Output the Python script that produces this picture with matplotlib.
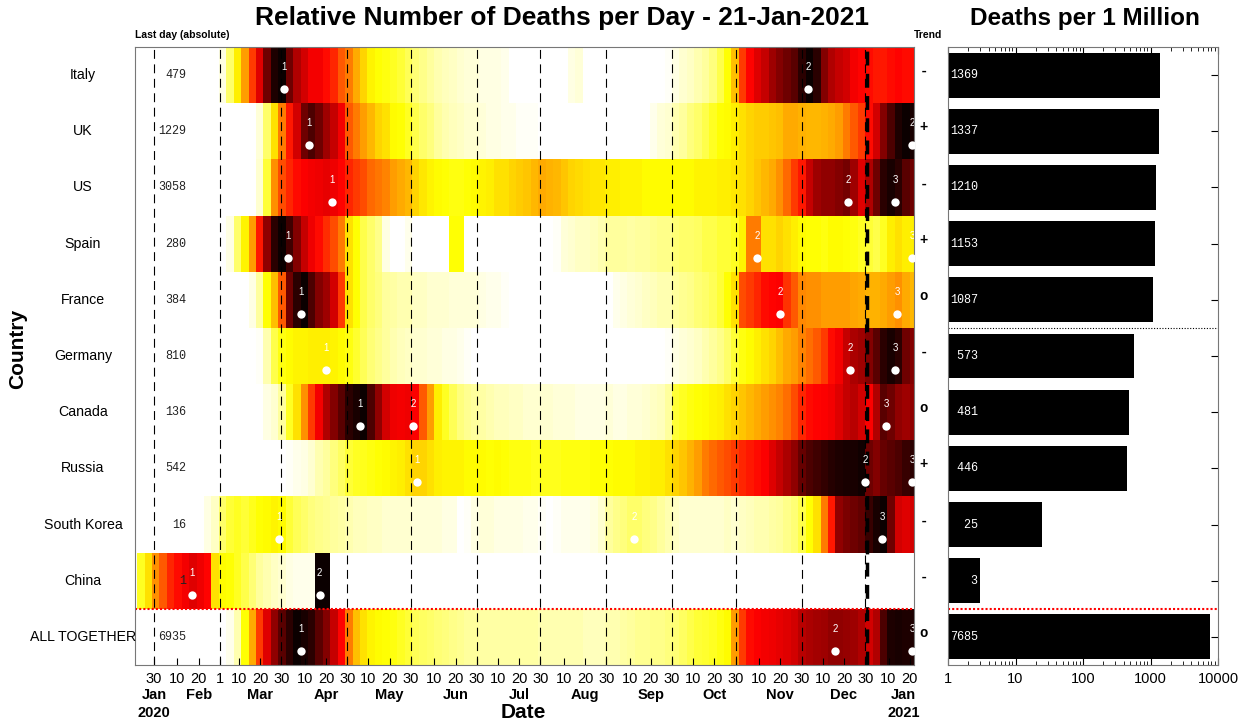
import numpy as np
import matplotlib
matplotlib.use('Agg')
import matplotlib.pyplot as plt
import matplotlib.dates as mdates
from matplotlib.transforms import blended_transform_factory as blend

plt.rcParams['font.family'] = ['Liberation Sans', 'DejaVu Sans']
MONO = 'Liberation Mono'

countries = ['Italy', 'UK', 'US', 'Spain', 'France', 'Germany', 'Canada',
             'Russia', 'South Korea', 'China', 'ALL TOGETHER']
last_day = [479, 1229, 3058, 280, 384, 810, 136, 542, 16, 1, 6935]
trend = ['-', '+', '-', '+', 'o', '-', 'o', '+', '-', '-', 'o']
deaths_per_million = [1369, 1337, 1210, 1153, 1087, 573, 481, 446, 25, 3, 7685]

# half-week deaths relative to each country's own maximum, bins start 22-Jan-2020
italy = [0, 0, 0, 0, 0, 0, 0, 0, 0, 0,
         0, 0.03, 0.15, 0.28, 0.40, 0.55, 0.68, 0.85, 0.97, 1.00,
         0.85, 0.75, 0.70, 0.65, 0.65, 0.62, 0.58, 0.50, 0.45, 0.38,
         0.32, 0.27, 0.25, 0.24, 0.22, 0.20, 0.17, 0.14, 0.12, 0.10,
         0.08, 0.07, 0.06, 0.05, 0.04, 0.04, 0.03, 0.03, 0.03, 0.02,
         0, 0, 0, 0, 0, 0, 0, 0, 0.03, 0.04,
         0, 0, 0, 0, 0, 0, 0, 0, 0, 0,
         0, 0.01, 0.03, 0.05, 0.06, 0.08, 0.10, 0.13, 0.18, 0.25,
         0.35, 0.55, 0.63, 0.68, 0.72, 0.78, 0.82, 0.85, 0.88, 0.95,
         1.00, 0.95, 0.82, 0.75, 0.72, 0.70, 0.65, 0.63, 0.62, 0.60,
         0.60, 0.62, 0.63, 0.62, 0.62]
uk = [0, 0, 0, 0, 0, 0, 0, 0, 0, 0,
      0, 0, 0, 0, 0, 0, 0.04, 0.15, 0.30, 0.45,
      0.60, 0.70, 0.85, 0.90, 0.85, 0.78, 0.72, 0.65, 0.50, 0.45,
      0.40, 0.36, 0.32, 0.30, 0.26, 0.25, 0.22, 0.18, 0.15, 0.13,
      0.10, 0.08, 0.07, 0.06, 0.05, 0.05, 0.04, 0.03, 0.03, 0.02,
      0.02, 0.01, 0.01, 0.01, 0, 0, 0, 0, 0, 0,
      0, 0, 0, 0, 0, 0, 0, 0, 0, 0.02,
      0.04, 0.05, 0.08, 0.10, 0.13, 0.15, 0.18, 0.22, 0.25, 0.26,
      0.28, 0.30, 0.32, 0.33, 0.33, 0.34, 0.35, 0.38, 0.38, 0.37,
      0.36, 0.36, 0.37, 0.38, 0.40, 0.45, 0.50, 0.55, 0.62, 0.70,
      0.82, 0.90, 0.97, 1.00, 0.98]
us = [0, 0, 0, 0, 0, 0, 0, 0, 0, 0,
      0, 0, 0, 0, 0, 0, 0.05, 0.20, 0.42, 0.52,
      0.58, 0.62, 0.64, 0.65, 0.66, 0.67, 0.66, 0.63, 0.58, 0.55,
      0.52, 0.48, 0.46, 0.44, 0.40, 0.38, 0.36, 0.32, 0.29, 0.27,
      0.26, 0.25, 0.24, 0.24, 0.25, 0.26, 0.27, 0.28, 0.30, 0.30,
      0.32, 0.33, 0.34, 0.36, 0.38, 0.37, 0.36, 0.34, 0.32, 0.31,
      0.30, 0.29, 0.29, 0.28, 0.28, 0.27, 0.27, 0.27, 0.26, 0.26,
      0.26, 0.26, 0.26, 0.26, 0.26, 0.27, 0.27, 0.27, 0.28, 0.28,
      0.29, 0.30, 0.32, 0.34, 0.36, 0.38, 0.42, 0.48, 0.55, 0.60,
      0.72, 0.78, 0.80, 0.80, 0.82, 0.84, 0.78, 0.68, 0.75, 0.85,
      0.95, 0.98, 0.95, 0.88, 0.85]
spain = [0, 0, 0, 0, 0, 0, 0, 0, 0, 0,
         0, 0, 0.03, 0.15, 0.27, 0.40, 0.60, 0.80, 0.95, 1.00,
         0.92, 0.82, 0.72, 0.66, 0.62, 0.57, 0.52, 0.45, 0.30, 0.25,
         0.18, 0.15, 0.12, 0.03, 0, 0, 0.02, 0, 0, 0,
         0, 0, 0.25, 0.25, 0, 0, 0, 0, 0, 0,
         0, 0, 0, 0, 0, 0, 0.01, 0.04, 0.05, 0.06,
         0.06, 0.07, 0.08, 0.10, 0.10, 0.10, 0.09, 0.10, 0.10, 0.11,
         0.12, 0.12, 0.14, 0.15, 0.15, 0.16, 0.18, 0.18, 0.20, 0.20,
         0.22, 0.27, 0.45, 0.45, 0.30, 0.30, 0.32, 0.30, 0.28, 0.26,
         0.25, 0.25, 0.24, 0.26, 0.26, 0.25, 0.24, 0.22, 0.20, 0.18,
         0.22, 0.28, 0.30, 0.28, 0.28]
france = [0, 0, 0, 0, 0, 0, 0, 0, 0, 0,
          0, 0, 0, 0, 0, 0.03, 0.10, 0.25, 0.35, 0.50,
          0.85, 0.95, 1.00, 0.90, 0.82, 0.78, 0.70, 0.55, 0.30, 0.25,
          0.18, 0.15, 0.13, 0.10, 0.09, 0.08, 0.08, 0.06, 0.06, 0.05,
          0.05, 0.05, 0.04, 0.04, 0.04, 0.04, 0.03, 0.02, 0.02, 0.01,
          0, 0, 0, 0, 0, 0, 0, 0, 0, 0,
          0, 0, 0, 0, 0.02, 0.03, 0.04, 0.05, 0.06, 0.07,
          0.08, 0.08, 0.10, 0.11, 0.12, 0.14, 0.15, 0.17, 0.20, 0.25,
          0.30, 0.52, 0.55, 0.58, 0.62, 0.63, 0.64, 0.56, 0.50, 0.43,
          0.42, 0.42, 0.40, 0.40, 0.40, 0.40, 0.39, 0.38, 0.37, 0.37,
          0.38, 0.40, 0.42, 0.38, 0.36]
germany = [0, 0, 0, 0, 0, 0, 0, 0, 0, 0,
           0, 0, 0, 0, 0, 0, 0.01, 0.08, 0.18, 0.24,
           0.26, 0.27, 0.27, 0.28, 0.28, 0.28, 0.27, 0.26, 0.24, 0.21,
           0.17, 0.14, 0.12, 0.10, 0.08, 0.07, 0.06, 0.05, 0.05, 0.04,
           0.04, 0.03, 0.03, 0.02, 0.01, 0, 0, 0, 0, 0,
           0, 0, 0, 0, 0, 0, 0, 0, 0, 0,
           0, 0, 0, 0, 0, 0, 0, 0, 0, 0,
           0, 0.01, 0.03, 0.04, 0.05, 0.06, 0.08, 0.10, 0.12, 0.15,
           0.20, 0.24, 0.26, 0.28, 0.30, 0.32, 0.35, 0.38, 0.40, 0.44,
           0.47, 0.50, 0.55, 0.62, 0.65, 0.72, 0.76, 0.78, 0.82, 0.88,
           0.95, 0.98, 0.95, 0.85, 0.82]
canada = [0, 0, 0, 0, 0, 0, 0, 0, 0, 0,
          0, 0, 0, 0, 0, 0, 0, 0.03, 0.05, 0.10,
          0.22, 0.30, 0.42, 0.55, 0.65, 0.75, 0.82, 0.88, 0.95, 0.98,
          1.00, 0.90, 0.80, 0.70, 0.66, 0.65, 0.66, 0.64, 0.50, 0.40,
          0.28, 0.22, 0.17, 0.13, 0.11, 0.10, 0.09, 0.08, 0.07, 0.07,
          0.06, 0.06, 0.05, 0.05, 0.05, 0.05, 0.04, 0.04, 0.04, 0.03,
          0.03, 0.03, 0.03, 0.04, 0.03, 0.03, 0.04, 0.04, 0.05, 0.06,
          0.07, 0.10, 0.20, 0.22, 0.24, 0.25, 0.26, 0.27, 0.28, 0.30,
          0.32, 0.34, 0.36, 0.38, 0.40, 0.42, 0.44, 0.47, 0.52, 0.58,
          0.62, 0.63, 0.64, 0.65, 0.68, 0.72, 0.74, 0.70, 0.64, 0.75,
          0.88, 0.85, 0.80, 0.78, 0.80]
russia = [0, 0, 0, 0, 0, 0, 0, 0, 0, 0,
          0, 0, 0, 0, 0, 0, 0, 0, 0, 0,
          0.01, 0.02, 0.03, 0.05, 0.08, 0.10, 0.13, 0.16, 0.20, 0.22,
          0.23, 0.24, 0.25, 0.26, 0.27, 0.28, 0.30, 0.32, 0.32, 0.30,
          0.28, 0.27, 0.27, 0.27, 0.26, 0.26, 0.26, 0.25, 0.26, 0.25,
          0.24, 0.24, 0.24, 0.23, 0.23, 0.23, 0.23, 0.24, 0.24, 0.24,
          0.24, 0.25, 0.25, 0.25, 0.26, 0.26, 0.26, 0.27, 0.27, 0.28,
          0.28, 0.30, 0.32, 0.34, 0.37, 0.40, 0.45, 0.48, 0.50, 0.52,
          0.55, 0.58, 0.60, 0.62, 0.64, 0.68, 0.72, 0.76, 0.80, 0.86,
          0.90, 0.92, 0.94, 0.96, 0.97, 0.98, 0.98, 0.99, 0.85, 0.82,
          0.86, 0.88, 0.90, 0.93, 0.95]
korea = [0, 0, 0, 0, 0, 0, 0, 0, 0, 0.03,
         0.06, 0.15, 0.20, 0.22, 0.20, 0.23, 0.25, 0.26, 0.27, 0.26,
         0.20, 0.17, 0.15, 0.13, 0.12, 0.11, 0.10, 0.09, 0.08, 0.07,
         0.07, 0.06, 0.06, 0.05, 0.05, 0.05, 0.05, 0.04, 0.04, 0.04,
         0.04, 0.03, 0.03, 0, 0.01, 0.03, 0.04, 0.04, 0.03, 0.03,
         0.03, 0.03, 0.02, 0.02, 0.01, 0, 0.01, 0.02, 0.02, 0.02,
         0.02, 0.03, 0.05, 0.10, 0.12, 0.13, 0.15, 0.15, 0.13, 0.12,
         0.10, 0.08, 0.06, 0.05, 0.05, 0.05, 0.05, 0.05, 0.05, 0.06,
         0.05, 0.06, 0.07, 0.08, 0.08, 0.09, 0.10, 0.12, 0.14, 0.18,
         0.25, 0.30, 0.45, 0.60, 0.80, 0.83, 0.85, 0.87, 0.93, 0.98,
         1.00, 0.85, 0.70, 0.68, 0.70]
china = [0.22, 0.30, 0.42, 0.50, 0.58, 0.62, 0.65, 0.68, 0.66, 0.63,
         0.30, 0.26, 0.25, 0.22, 0.18, 0.14, 0.10, 0.08, 0.06, 0.05,
         0.03, 0.02, 0.02, 0.02, 1.00, 1.00, 0, 0, 0, 0,
         0, 0, 0, 0, 0, 0, 0, 0, 0, 0,
         0, 0, 0, 0, 0, 0, 0, 0, 0, 0,
         0, 0, 0, 0, 0, 0, 0, 0, 0, 0,
         0, 0, 0, 0, 0, 0, 0, 0, 0, 0,
         0, 0, 0, 0, 0, 0, 0, 0, 0, 0,
         0, 0, 0, 0, 0, 0, 0, 0, 0, 0,
         0, 0, 0, 0, 0, 0, 0, 0, 0, 0,
         0, 0, 0, 0, 0]
all_together = [0, 0, 0, 0, 0, 0, 0, 0, 0, 0,
                0, 0, 0.02, 0.08, 0.25, 0.38, 0.55, 0.68, 0.80, 0.88,
                0.95, 1.00, 0.98, 0.95, 0.88, 0.82, 0.72, 0.63, 0.45, 0.35,
                0.30, 0.27, 0.26, 0.25, 0.24, 0.22, 0.20, 0.17, 0.16, 0.15,
                0.14, 0.13, 0.12, 0.11, 0.10, 0.10, 0.09, 0.09, 0.09, 0.09,
                0.09, 0.09, 0.09, 0.09, 0.08, 0.08, 0.08, 0.08, 0.08, 0.08,
                0.07, 0.07, 0.07, 0.08, 0.08, 0.09, 0.10, 0.11, 0.11, 0.12,
                0.12, 0.13, 0.14, 0.16, 0.18, 0.20, 0.21, 0.22, 0.24, 0.26,
                0.40, 0.55, 0.62, 0.64, 0.65, 0.66, 0.67, 0.68, 0.70, 0.74,
                0.76, 0.77, 0.78, 0.80, 0.80, 0.79, 0.78, 0.75, 0.70, 0.75,
                0.90, 0.97, 0.98, 0.97, 0.97]

# wave maxima (numbered 1, 2, 3 per country)
peak_dates = [
    ['2020-03-31', '2020-12-03'],
    ['2020-04-12', '2021-01-21'],
    ['2020-04-23', '2020-12-22', '2021-01-13'],
    ['2020-04-02', '2020-11-09', '2021-01-21'],
    ['2020-04-08', '2020-11-20', '2021-01-14'],
    ['2020-04-20', '2020-12-23', '2021-01-13'],
    ['2020-05-06', '2020-05-31', '2021-01-09'],
    ['2020-06-02', '2020-12-30', '2021-01-21'],
    ['2020-03-29', '2020-09-12', '2021-01-07'],
    ['2020-02-17', '2020-04-17'],
    ['2020-04-08', '2020-12-16', '2021-01-21'],
]

rows = [italy, uk, us, spain, france, germany, canada, russia, korea, china, all_together]
Z = np.array(rows)
n = len(countries)

bin_starts = np.arange(np.datetime64('2020-01-22T00'), np.datetime64('2021-01-22T00'),
                       np.timedelta64(84, 'h'))
xe = mdates.date2num(np.append(bin_starts, np.datetime64('2021-01-22T00')))
ye = np.arange(n + 1) - 0.5


def dnum(s):
    return mdates.date2num(np.datetime64(s))


W, H = 1245, 723


def box(x0, y0, x1, y1):
    return [x0 / W, 1 - y1 / H, (x1 - x0) / W, (y1 - y0) / H]


fig = plt.figure(figsize=(W / 100, H / 100), dpi=100)
ax = fig.add_axes(box(135, 47, 914, 665))
ax2 = fig.add_axes(box(948, 47, 1218, 665))

# ---- heatmap ----
ax.pcolormesh(xe, ye, Z, cmap='hot_r', vmin=0, vmax=1, shading='flat')
ax.set_xlim(dnum('2020-01-21'), dnum('2021-01-22'))
ax.set_ylim(n - 0.5, -0.5)

month_lines = ['2020-01-30', '2020-03-01'] + ['2020-%02d-30' % m for m in range(3, 13)]
for d in month_lines:
    ax.axvline(dnum(d), color='k', lw=0.8, ls=(0, (8, 5)), zorder=2)
ax.axvline(dnum('2020-12-31'), color='k', lw=2.5, ls=(0, (4, 2.4)), zorder=2)
ax.axhline(n - 1.5, color='r', lw=1.5, ls=(0, (1, 1)), zorder=2)

for i, dates in enumerate(peak_dates):
    for j, d in enumerate(dates):
        ax.plot(dnum(d), i + 0.25, 'o', color='w', ms=6, mec='none', zorder=3)
        ax.text(dnum(d), i - 0.14, str(j + 1), color='w', fontsize=7,
                ha='center', va='center', clip_on=True, zorder=3)

tr = blend(ax.transAxes, ax.transData)
for i, v in enumerate(last_day):
    ax.text((186 - 135) / 779, i, str(v), transform=tr, ha='right', va='center',
            family=MONO, fontsize=8.5, color='#222222')
for i, s in enumerate(trend):
    ax.text((924 - 135) / 779, i - 0.07, s, transform=tr, ha='center', va='center',
            family=MONO, fontsize=10, weight='bold', clip_on=False)
for i, c in enumerate(countries):
    ax.text(-(135 - 83) / 779, i, c, transform=tr, ha='center', va='center',
            fontsize=10.2)

ax.text(0, 1.012, 'Last day (absolute)', transform=ax.transAxes, fontsize=7.5,
        weight='bold', ha='left', va='bottom')
ax.text(1.0, 1.012, 'Trend', transform=ax.transAxes, fontsize=7.5,
        weight='bold', ha='left', va='bottom')

# date axis: ticks on the 10th, 20th, 30th of each month
tick_dates = ['2020-01-30', '2020-02-10', '2020-02-20', '2020-03-01']
for m in range(3, 13):
    tick_dates += ['2020-%02d-%02d' % (m, d) for d in (10, 20, 30)]
tick_dates += ['2021-01-10', '2021-01-20']
ax.set_xticks([dnum(d) for d in tick_dates])
ax.set_xticklabels([str(int(d[-2:])) for d in tick_dates])
ax.set_yticks([])
ax.tick_params(axis='x', direction='in', length=5, width=0.8, labelsize=10.5,
               pad=5, top=False)

month_names = ['Jan', 'Feb', 'Mar', 'Apr', 'May', 'Jun', 'Jul', 'Aug',
               'Sep', 'Oct', 'Nov', 'Dec', 'Jan']
month_pos = ['2020-01-30'] + ['2020-%02d-20' % m for m in range(2, 13)] + ['2021-01-17']
xb = blend(ax.transData, ax.transAxes)
for name, d in zip(month_names, month_pos):
    ax.text(dnum(d), -0.048, name, transform=xb, ha='center', va='center',
            fontsize=10.5, weight='bold')
for yr, d in zip(['2020', '2021'], ['2020-01-30', '2021-01-17']):
    ax.text(dnum(d), -0.078, yr, transform=xb, ha='center', va='center',
            fontsize=10.5, weight='bold')

for sp in ax.spines.values():
    sp.set_color('#777777')
    sp.set_linewidth(0.8)

# ---- deaths per million ----
yy = np.arange(n)
vals = np.array(deaths_per_million, dtype=float)
ax2.barh(yy, vals - 1, left=1, height=0.8, color='k')
ax2.set_xscale('log')
ax2.set_xlim(1, 10000)
ax2.set_ylim(n - 0.5, -0.5)
ax2.set_xticks([1, 10, 100, 1000, 10000])
ax2.set_xticklabels(['1', '10', '100', '1000', '10000'])
ax2.set_yticks(yy)
ax2.set_yticklabels([])
ax2.tick_params(axis='x', which='major', direction='in', length=5, top=True,
                labelsize=10.5, pad=5)
ax2.tick_params(axis='x', which='minor', direction='in', length=3, top=True)
ax2.tick_params(axis='y', direction='in', length=5, left=True, right=True)
ax2.axhline(4.5, color='k', lw=0.8, ls=(0, (1, 1.5)))
ax2.axhline(n - 1.5, color='r', lw=1.5, ls=(0, (1, 1)))
tr2 = blend(ax2.transAxes, ax2.transData)
for i, v in enumerate(deaths_per_million):
    ax2.text(0.008, i, '%4d' % v, transform=tr2, ha='left', va='center',
             family=MONO, fontsize=8.5, color='w')
for sp in ax2.spines.values():
    sp.set_color('#777777')
    sp.set_linewidth(0.8)

fig.text(562 / W, 1 - 18 / H, 'Relative Number of Deaths per Day - 21-Jan-2021',
         ha='center', va='center', fontsize=19, weight='bold')
fig.text(1085 / W, 1 - 18 / H, 'Deaths per 1 Million', ha='center', va='center',
         fontsize=17.5, weight='bold')
fig.text(523 / W, 1 - 712 / H, 'Date', ha='center', va='center', fontsize=15,
         weight='bold')
fig.text(18 / W, 1 - 349 / H, 'Country', ha='center', va='center', fontsize=15,
         weight='bold', rotation=90)

fig.savefig('out.png', dpi=100)
